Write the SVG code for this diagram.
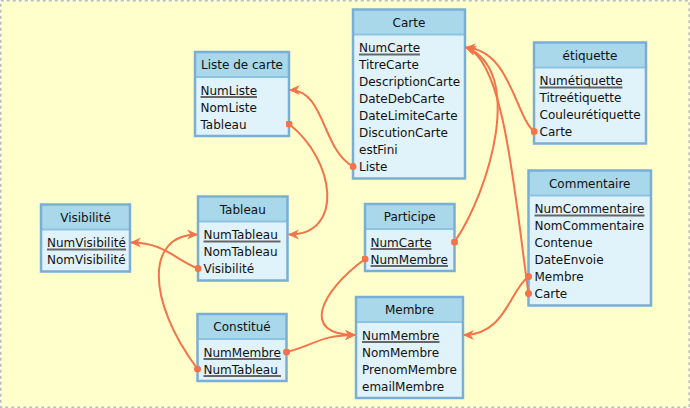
<svg xmlns="http://www.w3.org/2000/svg" width="690" height="408" viewBox="0 0 690 408">
<style>
.bg{fill:#ffffcc;stroke:#bbbbbb;stroke-width:1.5;stroke-dasharray:3 3}
.body{fill:#e0f2fa}
.hdr{fill:#a8d8ea}
.sep{stroke:#8cc3e3;stroke-width:2}
.out{fill:none;stroke:#7aaed6;stroke-width:2.5}
text{font-family:"DejaVu Sans",Verdana,sans-serif;font-size:12px;fill:#111}
.h{text-anchor:middle}
.u{stroke:#666;stroke-width:2}
.c{fill:none;stroke:#f5734a;stroke-width:2;marker-start:url(#dot);marker-end:url(#arr)}
</style>
<defs>
<marker id="arr" viewBox="0 0 10 10" refX="9" refY="5" markerWidth="11" markerHeight="11" markerUnits="userSpaceOnUse" orient="auto"><path d="M0,0.5 L10,5 L0,9.5 L3,5 z" fill="#f5734a"/></marker>
<marker id="dot" viewBox="0 0 8 8" refX="4" refY="4" markerWidth="7" markerHeight="7" markerUnits="userSpaceOnUse"><circle cx="4" cy="4" r="4" fill="#f5734a"/></marker>
</defs>
<rect class="bg" x="0.75" y="0.75" width="688.5" height="406.5"/>

<g id="carte">
<rect class="body" x="353" y="9.5" width="112" height="169"/>
<rect class="hdr" x="353" y="9.5" width="112" height="25"/>
<line class="sep" x1="354" y1="34.5" x2="464" y2="34.5"/>
<rect class="out" x="353" y="9.5" width="112" height="169"/>
<text class="h" x="409" y="26.5">Carte</text>
<text x="359" y="52">NumCarte</text>
<line class="u" x1="359" y1="54.5" x2="420" y2="54.5"/>
<text x="359" y="69">TitreCarte</text>
<text x="359" y="86">DescriptionCarte</text>
<text x="359" y="103">DateDebCarte</text>
<text x="359" y="120">DateLimiteCarte</text>
<text x="359" y="137">DiscutionCarte</text>
<text x="359" y="154">estFini</text>
<text x="359" y="171">Liste</text>
</g>

<g id="liste">
<rect class="body" x="195" y="52" width="94" height="84"/>
<rect class="hdr" x="195" y="52" width="94" height="25"/>
<line class="sep" x1="196" y1="77" x2="288" y2="77"/>
<rect class="out" x="195" y="52" width="94" height="84"/>
<text class="h" x="242" y="69">Liste de carte</text>
<text x="200.5" y="94.5">NumListe</text>
<line class="u" x1="200.5" y1="97" x2="257" y2="97"/>
<text x="200.5" y="111.5">NomListe</text>
<text x="200.5" y="128.5">Tableau</text>
</g>

<g id="etiquette">
<rect class="body" x="534" y="42.5" width="112" height="101"/>
<rect class="hdr" x="534" y="42.5" width="112" height="25"/>
<line class="sep" x1="535" y1="67.5" x2="645" y2="67.5"/>
<rect class="out" x="534" y="42.5" width="112" height="101"/>
<text class="h" x="590" y="59.5">étiquette</text>
<text x="539.5" y="85">Numétiquette</text>
<line class="u" x1="539.5" y1="87.5" x2="622.5" y2="87.5"/>
<text x="539.5" y="102">Titreétiquette</text>
<text x="539.5" y="119">Couleurétiquette</text>
<text x="539.5" y="136">Carte</text>
</g>

<g id="commentaire">
<rect class="body" x="528.5" y="170.5" width="122.5" height="135"/>
<rect class="hdr" x="528.5" y="170.5" width="122.5" height="25"/>
<line class="sep" x1="529.5" y1="195.5" x2="650" y2="195.5"/>
<rect class="out" x="528.5" y="170.5" width="122.5" height="135"/>
<text class="h" x="589.75" y="187.5">Commentaire</text>
<text x="534.5" y="213">NumCommentaire</text>
<line class="u" x1="534.5" y1="215.5" x2="644.5" y2="215.5"/>
<text x="534.5" y="230">NomCommentaire</text>
<text x="534.5" y="247">Contenue</text>
<text x="534.5" y="264">DateEnvoie</text>
<text x="534.5" y="281">Membre</text>
<text x="534.5" y="298">Carte</text>
</g>

<g id="visibilite">
<rect class="body" x="41" y="204.5" width="89" height="67"/>
<rect class="hdr" x="41" y="204.5" width="89" height="25"/>
<line class="sep" x1="42" y1="229.5" x2="129" y2="229.5"/>
<rect class="out" x="41" y="204.5" width="89" height="67"/>
<text class="h" x="85.5" y="221.5">Visibilité</text>
<text x="47" y="247">NumVisibilité</text>
<line class="u" x1="47" y1="249.5" x2="126" y2="249.5"/>
<text x="47" y="264">NomVisibilité</text>
</g>

<g id="tableau">
<rect class="body" x="198" y="196.5" width="89.5" height="84"/>
<rect class="hdr" x="198" y="196.5" width="89.5" height="25"/>
<line class="sep" x1="199" y1="221.5" x2="286.5" y2="221.5"/>
<rect class="out" x="198" y="196.5" width="89.5" height="84"/>
<text class="h" x="242.75" y="213.5">Tableau</text>
<text x="203.5" y="239">NumTableau</text>
<line class="u" x1="203.5" y1="241.5" x2="280.5" y2="241.5"/>
<text x="203.5" y="256">NomTableau</text>
<text x="203.5" y="273">Visibilité</text>
</g>

<g id="participe">
<rect class="body" x="365" y="204" width="89.5" height="67"/>
<rect class="hdr" x="365" y="204" width="89.5" height="25"/>
<line class="sep" x1="366" y1="229" x2="453.5" y2="229"/>
<rect class="out" x="365" y="204" width="89.5" height="67"/>
<text class="h" x="409.75" y="221">Participe</text>
<text x="370.5" y="246.5">NumCarte</text>
<line class="u" x1="370.5" y1="249" x2="431.5" y2="249"/>
<text x="370.5" y="263.5">NumMembre</text>
<line class="u" x1="370.5" y1="266" x2="448" y2="266"/>
</g>

<g id="constitue">
<rect class="body" x="197.5" y="314" width="89" height="67"/>
<rect class="hdr" x="197.5" y="314" width="89" height="25"/>
<line class="sep" x1="198.5" y1="339" x2="285.5" y2="339"/>
<rect class="out" x="197.5" y="314" width="89" height="67"/>
<text class="h" x="242" y="331">Constitué</text>
<text x="203.5" y="356.5">NumMembre</text>
<line class="u" x1="203.5" y1="359" x2="281" y2="359"/>
<text x="203.5" y="373.5">NumTableau</text>
<line class="u" x1="203.5" y1="376" x2="281" y2="376"/>
</g>

<g id="membre">
<rect class="body" x="356" y="297" width="107" height="101"/>
<rect class="hdr" x="356" y="297" width="107" height="25"/>
<line class="sep" x1="357" y1="322" x2="462" y2="322"/>
<rect class="out" x="356" y="297" width="107" height="101"/>
<text class="h" x="409.5" y="314">Membre</text>
<text x="362" y="339.5">NumMembre</text>
<line class="u" x1="362" y1="342" x2="439.5" y2="342"/>
<text x="362" y="356.5">NomMembre</text>
<text x="362" y="373.5">PrenomMembre</text>
<text x="362" y="390.5">emailMembre</text>
</g>

<g id="connectors">
<path class="c" d="M353,166.5 C322,150 325,90 290,90"/>
<path class="c" d="M289,124 C335,160 345,234.5 289,234.5"/>
<path class="c" d="M198,268.5 C175,260 165,242.5 131,242.5"/>
<path class="c" d="M197.5,369 C146,300 146,234.5 197,234.5"/>
<path class="c" d="M286.5,352 C315,345 320,335 355,335"/>
<path class="c" d="M365,259 C320,292 300,335 355,335"/>
<path class="c" d="M454.5,242 C490,190 525,70 466,47.5"/>
<path class="c" d="M534,131.5 C515,115 510,50 466,47.5"/>
<path class="c" d="M528.5,293.5 C515,200 505,60 466,47.5"/>
<path class="c" d="M528.5,276.5 C510,290 505,335 464,335"/>
</g>
</svg>
